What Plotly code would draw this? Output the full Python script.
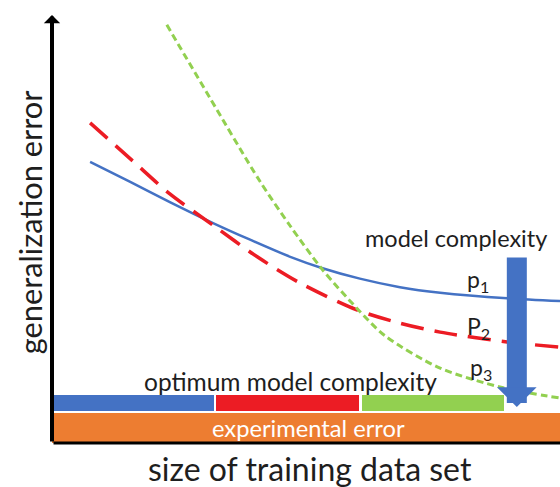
import plotly.graph_objects as go

# ---------------- data (x: size of training data set, y: generalization error; arbitrary units 0-100)
p1_x = [7.5, 15.4, 23.2, 31.7, 39.0, 46.9, 53.1, 60.6, 68.5, 76.4, 89.6, 100]
p1_y = [65.7, 61.0, 56.3, 51.4, 47.5, 43.5, 40.9, 38.4, 36.4, 35.1, 33.8, 33.2]

p2_x = [7.5, 15.9, 23.2, 31.7, 40.4, 48.8, 60.0, 68.5, 76.4, 89.6, 100]
p2_y = [74.8, 65.9, 58.2, 50.9, 43.5, 37.4, 31.1, 28.0, 25.9, 23.6, 22.4]

p3_x = [22.6, 31.1, 40.9, 46.9, 53.1, 60.0, 65.6, 76.4, 88.8, 100]
p3_y = [97.7, 80.6, 61.2, 50.7, 40.7, 31.5, 25.0, 17.5, 12.9, 10.5]

# optimum model complexity ranges (x start / end) for p1, p2, p3
opt_start = [0, 32.3, 61.0]
opt_end = [31.9, 60.4, 89.0]
opt_band = [7.5, 11.2]          # vertical band of the optimum bars

# experimental error band
exp_start, exp_end = 0, 100
exp_band = [0, 7.0]

labels = ["p<sub>1</sub>", "P<sub>2</sub>", "p<sub>3</sub>"]

BLUE = "#4472C4"
RED = "#EC1C24"
GREEN = "#92D050"
ORANGE = "#ED7D31"
TXT = "#1e1e1e"
FONT = "Lato"

fig = go.Figure()

# experimental error bar
fig.add_trace(go.Bar(
    orientation="h", y=[(exp_band[0] + exp_band[1]) / 2], x=[exp_end - exp_start],
    base=[exp_start], width=[exp_band[1] - exp_band[0]],
    marker=dict(color=ORANGE, line=dict(width=0)), hoverinfo="skip", showlegend=False))

# optimum model complexity bars
fig.add_trace(go.Bar(
    orientation="h", y=[(opt_band[0] + opt_band[1]) / 2] * 3,
    x=[e - s for s, e in zip(opt_start, opt_end)], base=opt_start,
    width=[opt_band[1] - opt_band[0]] * 3,
    marker=dict(color=[BLUE, RED, GREEN], line=dict(width=0)), hoverinfo="skip", showlegend=False))

# curves
fig.add_trace(go.Scatter(x=p1_x, y=p1_y, mode="lines",
                         line=dict(color=BLUE, width=2.5, shape="spline", smoothing=0.8), showlegend=False))
fig.add_trace(go.Scatter(x=p2_x, y=p2_y, mode="lines",
                         line=dict(color=RED, width=3.5, shape="spline", smoothing=0.8, dash="23px,11px"),
                         showlegend=False))
fig.add_trace(go.Scatter(x=p3_x, y=p3_y, mode="lines",
                         line=dict(color=GREEN, width=3, shape="spline", smoothing=0.8, dash="7px,4px"),
                         showlegend=False))

annotations = []
# axes as arrows
annotations.append(dict(x=0, y=100, ax=0, ay=0, xref="x", yref="y", axref="x", ayref="y", text="",
                        showarrow=True, arrowhead=1, arrowsize=0.68, arrowwidth=4, arrowcolor="black"))
annotations.append(dict(x=100, y=0, ax=0, ay=0, xref="x", yref="y", axref="x", ayref="y", text="",
                        showarrow=True, arrowhead=0, arrowwidth=3, arrowcolor="black"))
# model complexity arrow
annotations.append(dict(x=91.5, y=8.4, ax=91.5, ay=43.7, xref="x", yref="y", axref="x", ayref="y", text="",
                        showarrow=True, arrowhead=1, arrowsize=0.33, arrowwidth=20, arrowcolor=BLUE))

# texts
annotations.append(dict(x=79.5, y=47.9, xref="x", yref="y", text="model complexity", showarrow=False,
                        font=dict(family=FONT, size=23.5, color=TXT), xanchor="center", yanchor="middle"))
annotations.append(dict(x=46.9, y=14.3, xref="x", yref="y", text="optimum model complexity", showarrow=False,
                        font=dict(family=FONT, size=24.5, color=TXT), xanchor="center", yanchor="middle"))
annotations.append(dict(x=50.4, y=3.5, xref="x", yref="y", text="experimental error", showarrow=False,
                        font=dict(family=FONT, size=23.7, color="white"), xanchor="center", yanchor="middle"))
for lab, ly, lx in zip(labels, [37.9, 27.1, 17.5], [81.3, 81.3, 81.9]):
    annotations.append(dict(x=lx, y=ly, xref="x", yref="y", text=lab, showarrow=False,
                            font=dict(family=FONT, size=23, color=TXT), xanchor="left", yanchor="middle"))

annotations.append(dict(x=0.508, y=-0.059, xref="paper", yref="paper", text="size of training data set",
                        showarrow=False, font=dict(family=FONT, size=32, color=TXT), xanchor="center", yanchor="middle"))
annotations.append(dict(x=-0.0433, y=0.516, xref="paper", yref="paper", text="generalization error",
                        showarrow=False, textangle=-90, font=dict(family=FONT, size=30.8, color=TXT),
                        xanchor="center", yanchor="middle"))

fig.update_layout(
    width=560, height=487,
    margin=dict(l=52, r=0, t=15, b=44, pad=0),
    paper_bgcolor="white", plot_bgcolor="white",
    barmode="overlay", bargap=0,
    xaxis=dict(range=[0, 100], visible=False, fixedrange=True),
    yaxis=dict(range=[0, 100], visible=False, fixedrange=True),
    annotations=annotations,
    showlegend=False,
)

fig.write_html("out.html", config={"displayModeBar": False},
               post_script="document.body.style.margin='0';")
